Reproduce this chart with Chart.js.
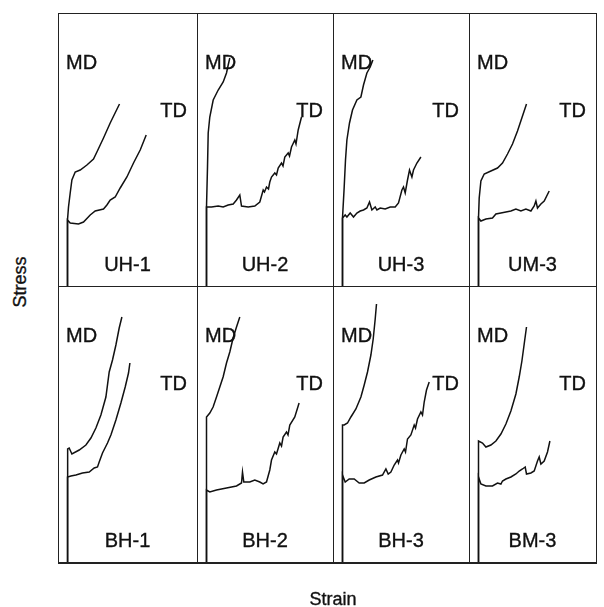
<!DOCTYPE html>
<html>
<head>
<meta charset="utf-8">
<script src="https://cdn.jsdelivr.net/npm/chart.js@4/dist/chart.umd.min.js"></script>
<style>
  body { margin: 0; background: #fff; }
  #fig { position: relative; width: 604px; height: 607px; font-family: "Liberation Sans", Arial, sans-serif; color: #111; }
  .panel { position: absolute; }
  .line { position: absolute; background: #222; }
  .lbl { position: absolute; font-size: 20px; line-height: 20px; white-space: nowrap; -webkit-text-stroke: 0.35px #111; }
</style>
</head>
<body>
<div id="fig"></div>
<script>
// strain / stress pairs (arbitrary units)
const panelNames = ['UH-1', 'UH-2', 'UH-3', 'UM-3', 'BH-1', 'BH-2', 'BH-3', 'BM-3'];

const uh1MD = [[0,0],[0,66],[1,79],[2.7,93],[4.4,106],[7.7,114],[12.7,116],[19.4,121],[26,127],[29.4,134],[36,148],[42.7,163],[52,182]];
const uh1TD = [[0,0],[0,66],[2.7,63],[11,62],[16,64],[22.7,71],[27.7,75],[36,77],[39.4,81],[42.7,86],[47.7,89],[52.7,98],[59.4,109],[66,123],[72.7,136],[78.7,151]];

const uh2MD = [[0,0],[0,79],[1,119],[1.7,153],[3.3,169],[6.7,186],[11.7,196],[16.7,204],[20,213],[21.7,221],[23.3,228]];
const uh2TD = [[0,0],[0,79],[5,79],[11.7,80],[16.7,79],[21.7,81],[26.7,82],[30,86],[33.3,91],[35,80],[41.7,79],[48.3,80],[53.3,84],[56.7,96],[58,94],[60,99],[62,97],[63.3,104],[65,109],[68.3,113],[70,111],[71.7,118],[75,123],[76.5,120],[78.3,129],[81.7,133],[83,130],[85,139],[88.3,146],[89.5,142],[91.7,156],[95,169]];

const uh3MD = [[0,0],[0,68],[1.7,99],[3,126],[4.4,146],[7,163],[10,176],[14.4,186],[18.4,189],[21,201],[24.4,213],[27.7,219],[30.4,226]];
const uh3TD = [[0,0],[0,68],[2.7,71],[4.4,69],[7.7,73],[11,69],[14.4,73],[17.7,75],[21,76],[24.4,78],[27,84],[29.4,76],[32.7,79],[34.4,76],[37.7,78],[42.7,77],[47.7,79],[52.7,79],[56,83],[59.4,96],[61,99],[62.7,93],[65,106],[67,116],[69.4,109],[71,116],[74.4,123],[78.4,129]];

const um3MD = [[0,0],[0,68],[0.7,88],[2.4,105],[5.7,112],[12.4,115],[19,118],[24,123],[29,132],[34,142],[39,155],[44,170],[48,182]];
const um3TD = [[0,0],[0,68],[2.4,65],[7.4,67],[14,68],[17.4,72],[22.4,73],[27.4,74],[32.4,75],[37.4,77],[42.4,75],[47.4,77],[52.4,75],[55.7,80],[57.4,85],[59,78],[62.4,82],[65.7,85],[70.7,95]];

const bh1MD = [[0,0],[0,85],[0.3,113],[1.7,114],[4.4,108],[11.7,112],[18.4,117],[23.4,124],[28.4,134],[33.4,147],[38.4,165],[41.7,190],[45,202],[48.4,217],[51.7,234],[54.4,245]];
const bh1TD = [[0,0],[0,85],[3.4,86],[8.4,87],[15,89],[21.7,90],[26.7,94],[30,95],[31.7,100],[35,109],[40,119],[43.4,127],[48.4,142],[53.4,159],[57.7,175],[61,189],[62.4,199]];

const bh2MD = [[0,0],[0,145],[3.3,149],[6.6,155],[10,165],[13.3,175],[16.6,185],[20,199],[23.3,210],[26.6,224],[30,235],[33.3,245]];
const bh2TD = [[0,0],[0,72],[3.3,70],[10,72],[20,74],[30,76],[35,79],[36,90],[37.3,80],[43.3,80],[48.3,82],[53.3,80],[56.6,78],[60,80],[63.3,92],[65,102],[68.3,110],[70,108],[73.3,119],[75,116],[76.6,125],[80,130],[81.5,127],[83.3,137],[88.3,145],[92.6,159]];

const bh3MD = [[0,0],[0,137],[1.7,137],[5,139],[8.4,145],[13.4,153],[18.4,165],[21.7,177],[25,190],[28.4,207],[30.7,223],[32.7,243],[34,258]];
const bh3TD = [[0,0],[0,87],[2.7,80],[6.7,83],[11.7,83],[16.7,79],[21.7,79],[26.7,82],[33.4,85],[40,87],[43.4,93],[45.7,88],[48.4,90],[51.7,97],[55,102],[56,99],[58.4,107],[61.7,113],[63,110],[65,123],[68.4,127],[71.7,137],[73,134],[75,143],[78.4,150],[80,147],[81.7,160],[84,172],[86.7,180]];

const bm3MD = [[0,0],[0,121],[4,119],[7.4,115],[12.4,117],[17.4,121],[22.4,128],[27.4,138],[32.4,151],[37.4,168],[40.7,185],[43.4,201],[45.7,218],[48,235]];
const bm3TD = [[0,0],[0,85],[2.4,78],[7.4,76],[14,76],[19,79],[22.4,78],[24,81],[27.4,83],[32.4,85],[37.4,88],[40.7,91],[44,93],[46.7,95],[48,88],[52.4,89],[55.7,91],[59,101],[60.7,105],[62.4,98],[65.7,101],[69,110],[71.4,121]];

const mdCurves = [uh1MD, uh2MD, uh3MD, um3MD, bh1MD, bh2MD, bh3MD, bm3MD];
const tdCurves = [uh1TD, uh2TD, uh3TD, um3TD, bh1TD, bh2TD, bh3TD, bm3TD];

// layout of the grid
const colEdges = [58, 197, 333, 469, 596];
const rowEdges = [13, 286, 562];
const strainOffset = 9.5;

const fig = document.getElementById('fig');

function addLine(x, y, w, h) {
    const d = document.createElement('div');
    d.className = 'line';
    d.style.left = x + 'px'; d.style.top = y + 'px';
    d.style.width = w + 'px'; d.style.height = h + 'px';
    fig.appendChild(d);
}

function addLabel(text, css) {
    const d = document.createElement('div');
    d.className = 'lbl';
    d.textContent = text;
    Object.assign(d.style, css);
    fig.appendChild(d);
    return d;
}

const toPts = arr => arr.map(([x, y]) => ({ x: x, y: y }));

panelNames.forEach((name, i) => {
    const c = i % 4, r = Math.floor(i / 4);
    const left = colEdges[c], right = colEdges[c + 1];
    const top = rowEdges[r], bottom = rowEdges[r + 1];
    const w = right - left, h = bottom - top;

    const box = document.createElement('div');
    box.className = 'panel';
    box.style.left = left + 'px'; box.style.top = top + 'px';
    const cv = document.createElement('canvas');
    cv.width = w; cv.height = h;
    cv.style.width = w + 'px'; cv.style.height = h + 'px';
    box.appendChild(cv);
    fig.appendChild(box);

    new Chart(cv.getContext('2d'), {
        type: 'scatter',
        data: {
            datasets: [
                { label: 'MD', data: toPts(mdCurves[i]) },
                { label: 'TD', data: toPts(tdCurves[i]) }
            ]
        },
        options: {
            responsive: false,
            animation: false,
            devicePixelRatio: 1,
            showLine: true,
            layout: { padding: 0 },
            elements: {
                point: { radius: 0 },
                line: { borderColor: '#111', borderWidth: 1.5, tension: 0 }
            },
            plugins: { legend: { display: false }, tooltip: { enabled: false } },
            scales: {
                x: { type: 'linear', display: false, min: -strainOffset, max: w - strainOffset },
                y: { type: 'linear', display: false, min: 0, max: h }
            }
        }
    });

    addLabel('MD', { left: (left + 8) + 'px', top: (top + 39) + 'px' });
    addLabel('TD', { right: (604 - right + 10) + 'px', top: (top + 87) + 'px' });
    addLabel(name, { left: left + 'px', width: w + 'px', textAlign: 'center', top: (bottom - 32) + 'px' });
});

// frame and dividers
addLine(colEdges[0], rowEdges[0], colEdges[4] - colEdges[0], 1);
addLine(colEdges[0], rowEdges[1], colEdges[4] - colEdges[0], 1);
addLine(colEdges[0], rowEdges[2], colEdges[4] - colEdges[0] + 1, 1.5);
colEdges.forEach(x => addLine(x, rowEdges[0], 1, rowEdges[2] - rowEdges[0]));

addLabel('Strain', { left: '293px', width: '80px', textAlign: 'center', top: '589px', fontSize: '18px' });
addLabel('Stress', { left: '-6px', top: '272px', fontSize: '18px', transform: 'rotate(-90deg)' });
</script>
</body>
</html>
